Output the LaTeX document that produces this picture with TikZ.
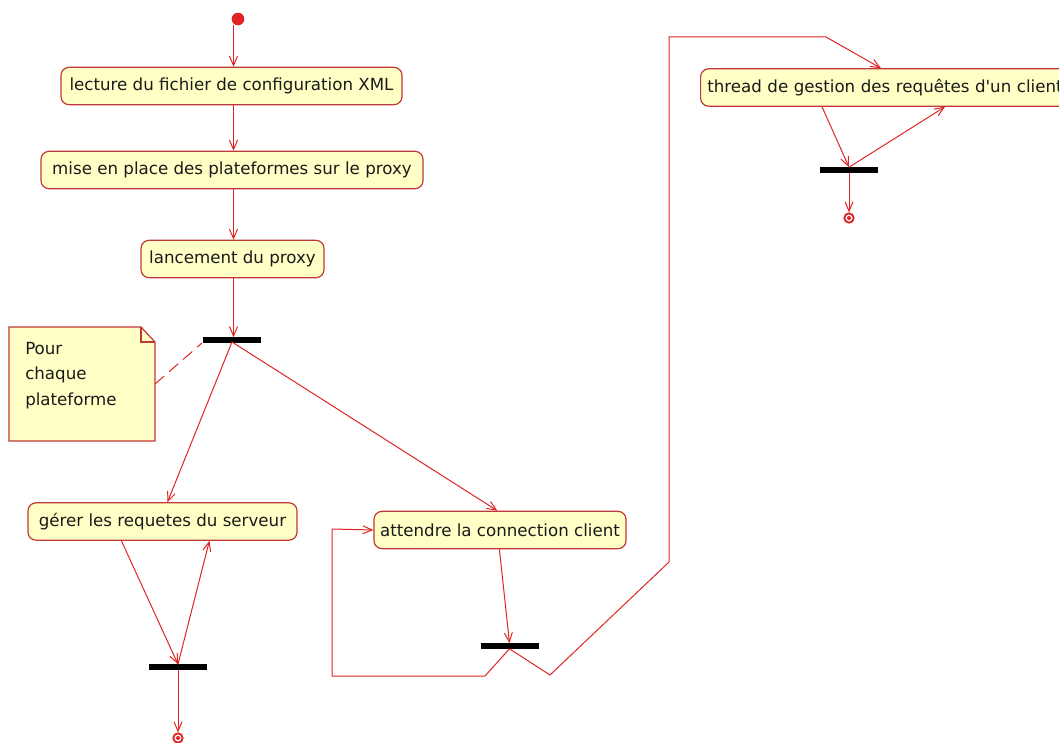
\documentclass[tikz,border=0pt]{standalone}
\usepackage{fontspec}
\setmainfont{DejaVu Sans}
\newfontfamily\umlfont{DejaVu Sans}
\usetikzlibrary{arrows.meta,calc}
\definecolor{flow}{HTML}{E02424}
\definecolor{boxline}{HTML}{C03838}
\definecolor{boxfill}{HTML}{FFFFC6}
\definecolor{inktext}{HTML}{1A1A1A}
\begin{document}
\begin{tikzpicture}[x=0.75pt,y=-0.75pt,
  act/.style={draw=boxline,fill=boxfill,rounded corners=6pt,line width=0.9pt,text=inktext,
    minimum height=28pt,inner sep=0pt,font=\umlfont\fontsize{12.5}{15}\selectfont},
  bar/.style={fill=black,minimum width=43.5pt,minimum height=3.8pt,inner sep=0pt},
  flowline/.style={draw=flow,line width=0.75pt},
  flowarrow/.style={flowline,-{Straight Barb[length=7pt,width=6pt,line width=0.75pt]}},
  startnode/.style={circle,fill=flow,minimum size=9.5pt,inner sep=0pt},
  endnode/.style={circle,draw=flow,line width=1.4pt,fill=white,minimum size=7pt,inner sep=0pt,
    path picture={\fill[flow] (path picture bounding box.center) circle (1.5pt);}},
  notelink/.style={draw=flow,line width=0.75pt,dash pattern=on 9pt off 5pt}
]
\useasboundingbox (0,0) rectangle (1059,742);
\clip (0,0) rectangle (1059,742);

% main thread: start, configuration, proxy launch
\node[startnode] (init) at (238,19) {};
\node[act,minimum width=255.75pt] (conf) at (231.5,86) {lecture du fichier de configuration XML};
\node[act,minimum width=286.5pt] (plat) at (232,170) {mise en place des plateformes sur le proxy};
\node[act,minimum width=137.25pt] (launch) at (232.5,259) {lancement du proxy};
\node[bar] (fork1) at (232,340) {};

\coordinate (initout) at (233.5,25);
\draw[flowarrow] (initout) -- (initout |- conf.north);
\draw[flowarrow] (conf.south -| initout) -- (plat.north -| initout);
\draw[flowarrow] (plat.south -| initout) -- (launch.north -| initout);
\draw[flowarrow] (launch.south -| initout) -- (fork1.north -| initout);

% note attached to the fork
\coordinate (nA) at (9,327);
\coordinate (nB) at (141,327);
\coordinate (nC) at (155,342);
\coordinate (nD) at (155,441);
\coordinate (nE) at (9,441);
\filldraw[draw=boxline,fill=boxfill,line width=0.9pt] (nA) -- (nB) -- (nC) -- (nD) -- (nE) -- cycle;
\draw[boxline,line width=0.9pt] (nB) -- (141,342) -- (nC);
\node[anchor=north west,align=left,inner sep=0pt,text=inktext,
  font=\umlfont\fontsize{12.5}{19}\selectfont] (note) at (25,342)
  {Pour\\chaque\\plateforme};
\coordinate (noteport) at (155,384);
\coordinate (forkport) at (202,343);
\draw[notelink] (noteport) -- (forkport);

% server request handling
\node[act,minimum width=201.75pt] (serv) at (162.5,521.5) {gérer les requetes du serveur};
\node[bar] (fork2) at (178,667) {};
\node[endnode] (end2) at (178,738) {};
\coordinate (f1out) at (232,342);
\draw[flowarrow] (f1out) -- ($(serv.north west)+(140,0)$);
\draw[flowarrow] ($(serv.south west)+(94,0)$) -- (fork2.north);
\draw[flowarrow] (fork2.north) -- ($(serv.south west)+(182,0)$);
\draw[flowarrow] (fork2.south) -- (end2.north);

% client connection loop
\node[act,minimum width=189pt] (wait) at (500,530) {attendre la connection client};
\node[bar] (fork3) at (509.5,646) {};
\draw[flowarrow] (f1out) -- ($(wait.north west)+(124,0)$);
\draw[flowarrow] ($(wait.south west)+(126,0)$) -- (fork3.north);
\draw[flowarrow] (fork3.south) -- (485,676) -- (332,676) -- (332,529) -- (wait.west);

% client thread
\node[act,minimum width=300pt,anchor=west,align=left,text width=295pt] (thread) at (700,87.5)
  {\hspace*{2.5pt}thread de gestion des requêtes d'un client};
\draw[flowarrow] (fork3.south) -- (550,675) -- (669,562) -- (669,37) -- (826,37)
  -- ($(thread.north west)+(181,0)$);
\node[bar] (fork4) at (849,170) {};
\node[endnode] (end4) at (849,218) {};
\draw[flowarrow] ($(thread.south west)+(122,0)$) -- (fork4.north);
\draw[flowarrow] (fork4.north) -- ($(thread.south west)+(245,0)$);
\draw[flowarrow] (fork4.south) -- (end4.north);
\end{tikzpicture}
\end{document}
